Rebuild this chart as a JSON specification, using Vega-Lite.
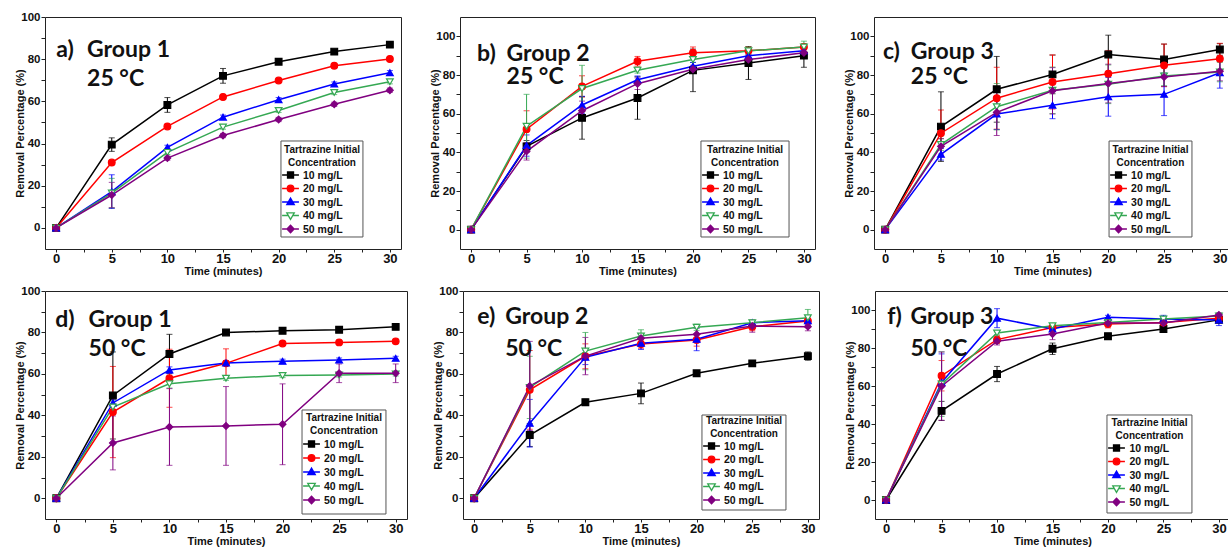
{
"$schema": "https://vega.github.io/schema/vega-lite/v6.json",
"background": "white",
"padding": {"left": 14, "top": 10, "right": 0, "bottom": 0},
"config": {
 "view": {"stroke": "#222", "strokeWidth": 1},
 "font": "Liberation Sans",
 "axis": {"grid": false, "domain": false, "labelFont": "Liberation Sans", "labelFontWeight": "bold", "labelColor": "#111", "tickColor": "#222", "titleFont": "Liberation Sans", "titleFontWeight": "bold", "titleFontSize": 11, "titleColor": "#111"}
},
"datasets": {"d": [
{"p":"a","c":"10 mg/L","t":0,"v":0,"e":0},{"p":"a","c":"10 mg/L","t":5,"v":39.5,"e":3.2},{"p":"a","c":"10 mg/L","t":10,"v":58.3,"e":3.5},{"p":"a","c":"10 mg/L","t":15,"v":72.1,"e":3.5},{"p":"a","c":"10 mg/L","t":20,"v":78.8,"e":1.2},{"p":"a","c":"10 mg/L","t":25,"v":83.6,"e":1},{"p":"a","c":"10 mg/L","t":30,"v":86.9,"e":0.8},
{"p":"a","c":"20 mg/L","t":0,"v":0,"e":0},{"p":"a","c":"20 mg/L","t":5,"v":31,"e":1},{"p":"a","c":"20 mg/L","t":10,"v":48.1,"e":1},{"p":"a","c":"20 mg/L","t":15,"v":62.1,"e":1},{"p":"a","c":"20 mg/L","t":20,"v":69.9,"e":0.8},{"p":"a","c":"20 mg/L","t":25,"v":76.9,"e":1},{"p":"a","c":"20 mg/L","t":30,"v":80.1,"e":0.8},
{"p":"a","c":"30 mg/L","t":0,"v":0,"e":0},{"p":"a","c":"30 mg/L","t":5,"v":17.2,"e":8},{"p":"a","c":"30 mg/L","t":10,"v":38.2,"e":1},{"p":"a","c":"30 mg/L","t":15,"v":52.5,"e":1},{"p":"a","c":"30 mg/L","t":20,"v":60.8,"e":1},{"p":"a","c":"30 mg/L","t":25,"v":68.2,"e":1},{"p":"a","c":"30 mg/L","t":30,"v":73.6,"e":1},
{"p":"a","c":"40 mg/L","t":0,"v":0,"e":0},{"p":"a","c":"40 mg/L","t":5,"v":16.5,"e":7},{"p":"a","c":"40 mg/L","t":10,"v":35.8,"e":1},{"p":"a","c":"40 mg/L","t":15,"v":47.8,"e":1},{"p":"a","c":"40 mg/L","t":20,"v":55.7,"e":1},{"p":"a","c":"40 mg/L","t":25,"v":64.2,"e":1},{"p":"a","c":"40 mg/L","t":30,"v":69.3,"e":1},
{"p":"a","c":"50 mg/L","t":0,"v":0,"e":0},{"p":"a","c":"50 mg/L","t":5,"v":15.6,"e":6},{"p":"a","c":"50 mg/L","t":10,"v":33.1,"e":1},{"p":"a","c":"50 mg/L","t":15,"v":43.8,"e":1},{"p":"a","c":"50 mg/L","t":20,"v":51.4,"e":1},{"p":"a","c":"50 mg/L","t":25,"v":58.6,"e":1},{"p":"a","c":"50 mg/L","t":30,"v":65.3,"e":1},
{"p":"b","c":"10 mg/L","t":0,"v":0,"e":0},{"p":"b","c":"10 mg/L","t":5,"v":43.1,"e":3},{"p":"b","c":"10 mg/L","t":10,"v":57.8,"e":11},{"p":"b","c":"10 mg/L","t":15,"v":68.1,"e":11},{"p":"b","c":"10 mg/L","t":20,"v":82.4,"e":11},{"p":"b","c":"10 mg/L","t":25,"v":86.2,"e":8.5},{"p":"b","c":"10 mg/L","t":30,"v":90,"e":6},
{"p":"b","c":"20 mg/L","t":0,"v":0,"e":0},{"p":"b","c":"20 mg/L","t":5,"v":52,"e":9.5},{"p":"b","c":"20 mg/L","t":10,"v":74.1,"e":5.5},{"p":"b","c":"20 mg/L","t":15,"v":87.1,"e":2.5},{"p":"b","c":"20 mg/L","t":20,"v":91.5,"e":3},{"p":"b","c":"20 mg/L","t":25,"v":92.5,"e":2},{"p":"b","c":"20 mg/L","t":30,"v":94.5,"e":1.5},
{"p":"b","c":"30 mg/L","t":0,"v":0,"e":0},{"p":"b","c":"30 mg/L","t":5,"v":43.5,"e":5.5},{"p":"b","c":"30 mg/L","t":10,"v":64.5,"e":4.5},{"p":"b","c":"30 mg/L","t":15,"v":77.5,"e":2},{"p":"b","c":"30 mg/L","t":20,"v":84.5,"e":2},{"p":"b","c":"30 mg/L","t":25,"v":90,"e":1.5},{"p":"b","c":"30 mg/L","t":30,"v":92.5,"e":2},
{"p":"b","c":"40 mg/L","t":0,"v":0,"e":0},{"p":"b","c":"40 mg/L","t":5,"v":53.5,"e":16.5},{"p":"b","c":"40 mg/L","t":10,"v":73,"e":12},{"p":"b","c":"40 mg/L","t":15,"v":82.5,"e":1.5},{"p":"b","c":"40 mg/L","t":20,"v":88,"e":1.5},{"p":"b","c":"40 mg/L","t":25,"v":92.5,"e":2},{"p":"b","c":"40 mg/L","t":30,"v":94.5,"e":3},
{"p":"b","c":"50 mg/L","t":0,"v":0,"e":0},{"p":"b","c":"50 mg/L","t":5,"v":40.5,"e":4.5},{"p":"b","c":"50 mg/L","t":10,"v":61.5,"e":5},{"p":"b","c":"50 mg/L","t":15,"v":75.5,"e":3},{"p":"b","c":"50 mg/L","t":20,"v":83,"e":2},{"p":"b","c":"50 mg/L","t":25,"v":88,"e":2},{"p":"b","c":"50 mg/L","t":30,"v":91.5,"e":2},
{"p":"c","c":"10 mg/L","t":0,"v":0,"e":0},{"p":"c","c":"10 mg/L","t":5,"v":53.3,"e":18},{"p":"c","c":"10 mg/L","t":10,"v":72.6,"e":17},{"p":"c","c":"10 mg/L","t":15,"v":80.3,"e":10},{"p":"c","c":"10 mg/L","t":20,"v":90.6,"e":10},{"p":"c","c":"10 mg/L","t":25,"v":88,"e":8},{"p":"c","c":"10 mg/L","t":30,"v":93.2,"e":3},
{"p":"c","c":"20 mg/L","t":0,"v":0,"e":0},{"p":"c","c":"20 mg/L","t":5,"v":49.9,"e":12},{"p":"c","c":"20 mg/L","t":10,"v":68,"e":16},{"p":"c","c":"20 mg/L","t":15,"v":76.4,"e":14},{"p":"c","c":"20 mg/L","t":20,"v":80.7,"e":12},{"p":"c","c":"20 mg/L","t":25,"v":85,"e":11},{"p":"c","c":"20 mg/L","t":30,"v":88.4,"e":8},
{"p":"c","c":"30 mg/L","t":0,"v":0,"e":0},{"p":"c","c":"30 mg/L","t":5,"v":39,"e":3},{"p":"c","c":"30 mg/L","t":10,"v":59.8,"e":8},{"p":"c","c":"30 mg/L","t":15,"v":64.4,"e":7},{"p":"c","c":"30 mg/L","t":20,"v":68.7,"e":10},{"p":"c","c":"30 mg/L","t":25,"v":70,"e":11},{"p":"c","c":"30 mg/L","t":30,"v":81.2,"e":8},
{"p":"c","c":"40 mg/L","t":0,"v":0,"e":0},{"p":"c","c":"40 mg/L","t":5,"v":44,"e":3},{"p":"c","c":"40 mg/L","t":10,"v":63.6,"e":12},{"p":"c","c":"40 mg/L","t":15,"v":72.1,"e":12},{"p":"c","c":"40 mg/L","t":20,"v":75.2,"e":10},{"p":"c","c":"40 mg/L","t":25,"v":79.5,"e":5},{"p":"c","c":"40 mg/L","t":30,"v":81.5,"e":5},
{"p":"c","c":"50 mg/L","t":0,"v":0,"e":0},{"p":"c","c":"50 mg/L","t":5,"v":43.1,"e":4},{"p":"c","c":"50 mg/L","t":10,"v":60.7,"e":12},{"p":"c","c":"50 mg/L","t":15,"v":71.8,"e":12},{"p":"c","c":"50 mg/L","t":20,"v":75.6,"e":10},{"p":"c","c":"50 mg/L","t":25,"v":79,"e":5},{"p":"c","c":"50 mg/L","t":30,"v":82,"e":5},
{"p":"d","c":"10 mg/L","t":0,"v":0,"e":0},{"p":"d","c":"10 mg/L","t":5,"v":49.6,"e":21},{"p":"d","c":"10 mg/L","t":10,"v":69.6,"e":9.5},{"p":"d","c":"10 mg/L","t":15,"v":80,"e":0.8},{"p":"d","c":"10 mg/L","t":20,"v":80.8,"e":0.8},{"p":"d","c":"10 mg/L","t":25,"v":81.3,"e":0.8},{"p":"d","c":"10 mg/L","t":30,"v":82.7,"e":0.8},
{"p":"d","c":"20 mg/L","t":0,"v":0,"e":0},{"p":"d","c":"20 mg/L","t":5,"v":41.6,"e":22},{"p":"d","c":"20 mg/L","t":10,"v":57.9,"e":14},{"p":"d","c":"20 mg/L","t":15,"v":65.1,"e":7},{"p":"d","c":"20 mg/L","t":20,"v":74.7,"e":1},{"p":"d","c":"20 mg/L","t":25,"v":75.2,"e":1},{"p":"d","c":"20 mg/L","t":30,"v":75.7,"e":1},
{"p":"d","c":"30 mg/L","t":0,"v":0,"e":0},{"p":"d","c":"30 mg/L","t":5,"v":46,"e":1.5},{"p":"d","c":"30 mg/L","t":10,"v":61.9,"e":1.5},{"p":"d","c":"30 mg/L","t":15,"v":65.3,"e":1},{"p":"d","c":"30 mg/L","t":20,"v":66.1,"e":1},{"p":"d","c":"30 mg/L","t":25,"v":66.7,"e":1},{"p":"d","c":"30 mg/L","t":30,"v":67.5,"e":1},
{"p":"d","c":"40 mg/L","t":0,"v":0,"e":0},{"p":"d","c":"40 mg/L","t":5,"v":44,"e":3},{"p":"d","c":"40 mg/L","t":10,"v":55.2,"e":2},{"p":"d","c":"40 mg/L","t":15,"v":57.9,"e":1},{"p":"d","c":"40 mg/L","t":20,"v":59.2,"e":1},{"p":"d","c":"40 mg/L","t":25,"v":59.5,"e":1},{"p":"d","c":"40 mg/L","t":30,"v":60,"e":1},
{"p":"d","c":"50 mg/L","t":0,"v":0,"e":0},{"p":"d","c":"50 mg/L","t":5,"v":26.7,"e":13},{"p":"d","c":"50 mg/L","t":10,"v":34.4,"e":18.5},{"p":"d","c":"50 mg/L","t":15,"v":34.9,"e":19},{"p":"d","c":"50 mg/L","t":20,"v":35.7,"e":19.5},{"p":"d","c":"50 mg/L","t":25,"v":60.3,"e":4.5},{"p":"d","c":"50 mg/L","t":30,"v":60.3,"e":4.5},
{"p":"e","c":"10 mg/L","t":0,"v":0,"e":0},{"p":"e","c":"10 mg/L","t":5,"v":30.5,"e":5.5},{"p":"e","c":"10 mg/L","t":10,"v":46.3,"e":1.5},{"p":"e","c":"10 mg/L","t":15,"v":50.6,"e":5},{"p":"e","c":"10 mg/L","t":20,"v":60.3,"e":1},{"p":"e","c":"10 mg/L","t":25,"v":65.1,"e":1},{"p":"e","c":"10 mg/L","t":30,"v":68.6,"e":2},
{"p":"e","c":"20 mg/L","t":0,"v":0,"e":0},{"p":"e","c":"20 mg/L","t":5,"v":52.3,"e":19},{"p":"e","c":"20 mg/L","t":10,"v":68.5,"e":6},{"p":"e","c":"20 mg/L","t":15,"v":74.4,"e":2},{"p":"e","c":"20 mg/L","t":20,"v":76.4,"e":3},{"p":"e","c":"20 mg/L","t":25,"v":82.8,"e":2},{"p":"e","c":"20 mg/L","t":30,"v":85.5,"e":2},
{"p":"e","c":"30 mg/L","t":0,"v":0,"e":0},{"p":"e","c":"30 mg/L","t":5,"v":36.2,"e":11.5},{"p":"e","c":"30 mg/L","t":10,"v":68,"e":3.5},{"p":"e","c":"30 mg/L","t":15,"v":74.8,"e":3},{"p":"e","c":"30 mg/L","t":20,"v":76.7,"e":5.5},{"p":"e","c":"30 mg/L","t":25,"v":84.7,"e":1},{"p":"e","c":"30 mg/L","t":30,"v":85.7,"e":2},
{"p":"e","c":"40 mg/L","t":0,"v":0,"e":0},{"p":"e","c":"40 mg/L","t":5,"v":53.5,"e":15},{"p":"e","c":"40 mg/L","t":10,"v":71,"e":9},{"p":"e","c":"40 mg/L","t":15,"v":78.3,"e":3},{"p":"e","c":"40 mg/L","t":20,"v":82.5,"e":1.5},{"p":"e","c":"40 mg/L","t":25,"v":84.7,"e":1},{"p":"e","c":"40 mg/L","t":30,"v":87.1,"e":4},
{"p":"e","c":"50 mg/L","t":0,"v":0,"e":0},{"p":"e","c":"50 mg/L","t":5,"v":54.2,"e":21.5},{"p":"e","c":"50 mg/L","t":10,"v":68.6,"e":9},{"p":"e","c":"50 mg/L","t":15,"v":77.2,"e":2},{"p":"e","c":"50 mg/L","t":20,"v":79.1,"e":3},{"p":"e","c":"50 mg/L","t":25,"v":83.1,"e":3},{"p":"e","c":"50 mg/L","t":30,"v":82.8,"e":2},
{"p":"f","c":"10 mg/L","t":0,"v":0,"e":0},{"p":"f","c":"10 mg/L","t":5,"v":46.9,"e":5},{"p":"f","c":"10 mg/L","t":10,"v":66.3,"e":4},{"p":"f","c":"10 mg/L","t":15,"v":79.6,"e":3},{"p":"f","c":"10 mg/L","t":20,"v":86.2,"e":1.5},{"p":"f","c":"10 mg/L","t":25,"v":90,"e":1},{"p":"f","c":"10 mg/L","t":30,"v":94.8,"e":1},
{"p":"f","c":"20 mg/L","t":0,"v":0,"e":0},{"p":"f","c":"20 mg/L","t":5,"v":65.4,"e":8},{"p":"f","c":"20 mg/L","t":10,"v":84.4,"e":2},{"p":"f","c":"20 mg/L","t":15,"v":90.8,"e":2},{"p":"f","c":"20 mg/L","t":20,"v":92.6,"e":2},{"p":"f","c":"20 mg/L","t":25,"v":93.4,"e":1},{"p":"f","c":"20 mg/L","t":30,"v":95.7,"e":2},
{"p":"f","c":"30 mg/L","t":0,"v":0,"e":0},{"p":"f","c":"30 mg/L","t":5,"v":61.9,"e":15},{"p":"f","c":"30 mg/L","t":10,"v":95.7,"e":5},{"p":"f","c":"30 mg/L","t":15,"v":90,"e":1},{"p":"f","c":"30 mg/L","t":20,"v":96.2,"e":1},{"p":"f","c":"30 mg/L","t":25,"v":95.2,"e":2},{"p":"f","c":"30 mg/L","t":30,"v":94.8,"e":3},
{"p":"f","c":"40 mg/L","t":0,"v":0,"e":0},{"p":"f","c":"40 mg/L","t":5,"v":61,"e":17},{"p":"f","c":"40 mg/L","t":10,"v":87.9,"e":1},{"p":"f","c":"40 mg/L","t":15,"v":91.7,"e":1},{"p":"f","c":"40 mg/L","t":20,"v":93.4,"e":1},{"p":"f","c":"40 mg/L","t":25,"v":95.2,"e":1},{"p":"f","c":"40 mg/L","t":30,"v":96.9,"e":1},
{"p":"f","c":"50 mg/L","t":0,"v":0,"e":0},{"p":"f","c":"50 mg/L","t":5,"v":59.9,"e":18},{"p":"f","c":"50 mg/L","t":10,"v":83.6,"e":2},{"p":"f","c":"50 mg/L","t":15,"v":87.4,"e":3},{"p":"f","c":"50 mg/L","t":20,"v":93.1,"e":1},{"p":"f","c":"50 mg/L","t":25,"v":93.1,"e":1},{"p":"f","c":"50 mg/L","t":30,"v":97.4,"e":1}
]},
"spacing": 7,
"resolve": {"scale": {"x": "independent", "y": "independent", "color": "independent", "stroke": "independent", "fill": "independent", "shape": "independent"}},
"vconcat": [
{"hconcat": [
 {"width": 356, "height": 232,
  "encoding": {
   "x": {"field": "t", "type": "quantitative", "scale": {"domain": [-1, 31], "nice": false, "zero": false}, "axis": {"title": "Time (minutes)", "values": [0,2.5,5,7.5,10,12.5,15,17.5,20,22.5,25,27.5,30], "labelExpr": "datum.value % 5 === 0 ? datum.label : ''", "labelFontSize": 13, "labelPadding": 0, "titlePadding": 0, "tickSize": 3}},
   "y": {"field": "v", "type": "quantitative", "scale": {"domain": [-10, 100], "nice": false, "zero": false}, "axis": {"title": "Removal Percentage (%)", "values": [0,10,20,30,40,50,60,70,80,90,100], "labelExpr": "datum.value % 20 === 0 ? datum.label : ''", "labelFontSize": 11.5, "tickSize": 4, "labelPadding": 1, "titlePadding": -5}}
  },
  "layer": [
   {"data": {"name": "d"}, "transform": [{"filter": "datum.p === 'a' && datum.e > 0"}], "mark": {"type": "errorbar", "ticks": {"size": 6}, "thickness": 1}, "encoding": {"yError": {"field": "e"}, "color": {"field": "c", "type": "nominal", "scale": {"domain": ["10 mg/L","20 mg/L","30 mg/L","40 mg/L","50 mg/L"], "range": ["#000000","#ff0000","#0000ff","#35a853","#800080"]}, "legend": null}}},
   {"data": {"name": "d"}, "transform": [{"filter": "datum.p === 'a'"}], "mark": {"type": "line", "strokeWidth": 1.5}, "encoding": {"color": {"field": "c", "type": "nominal", "scale": {"domain": ["10 mg/L","20 mg/L","30 mg/L","40 mg/L","50 mg/L"], "range": ["#000000","#ff0000","#0000ff","#35a853","#800080"]}, "legend": null}}},
   {"data": {"name": "d"}, "transform": [{"filter": "datum.p === 'a'"}], "mark": {"type": "point", "filled": true, "size": 45, "opacity": 1, "strokeWidth": 1.2},
    "encoding": {
     "shape": {"field": "c", "type": "nominal", "scale": {"domain": ["10 mg/L","20 mg/L","30 mg/L","40 mg/L","50 mg/L"], "range": ["square","circle","triangle-up","triangle-down","diamond"]}, "legend": null},
     "fill": {"field": "c", "type": "nominal", "scale": {"domain": ["10 mg/L","20 mg/L","30 mg/L","40 mg/L","50 mg/L"], "range": ["#000000","#ff0000","#0000ff","#ffffff","#800080"]}, "legend": null},
     "stroke": {"field": "c", "type": "nominal", "scale": {"domain": ["10 mg/L","20 mg/L","30 mg/L","40 mg/L","50 mg/L"], "range": ["#000000","#ff0000","#0000ff","#35a853","#800080"]}, "legend": null}
    }},
   {"data": {"name": "d"}, "transform": [{"filter": "datum.p === 'a' && datum.t === 0 && datum.c === '10 mg/L'"}],
    "layer": [
     {"mark": {"type": "text", "font": "Lato", "fontSize": 23, "fontWeight": "bold", "align": "left", "baseline": "alphabetic", "color": "#111"}, "encoding": {"x": {"datum": 0}, "y": {"datum": 81}, "text": {"value": "a)"}}},
     {"mark": {"type": "text", "font": "Lato", "fontSize": 23, "fontWeight": "bold", "align": "left", "baseline": "alphabetic", "color": "#111", "lineHeight": 29}, "encoding": {"x": {"datum": 2.78}, "y": {"datum": 81}, "text": {"value": ["Group 1", "25 °C"]}}},
     {"mark": {"type": "rect", "fill": "white", "stroke": "#555", "strokeWidth": 1}, "encoding": {"x": {"datum": 20.21}, "x2": {"datum": 27.58}, "y": {"datum": 41.21}, "y2": {"datum": -4.31}}},
     {"mark": {"type": "text", "font": "Liberation Sans", "fontSize": 10, "fontWeight": "bold", "align": "center", "baseline": "alphabetic", "lineHeight": 13, "color": "#111"}, "encoding": {"x": {"datum": 23.9}, "y": {"datum": 35.75}, "text": {"value": ["Tartrazine Initial", "Concentration"]}}},
     {"mark": {"type": "point", "shape": "M-2.8,0H2.8M-1,-1H1V1H-1Z", "size": 36, "filled": true, "fill": "#000000", "stroke": "#000000", "strokeWidth": 1.3, "opacity": 1}, "encoding": {"x": {"datum": 21.07}, "y": {"datum": 25.09}}},
     {"mark": {"type": "point", "shape": "M-2.8,0H2.8M-1.1,0A1.1,1.1,0,1,1,1.1,0A1.1,1.1,0,1,1,-1.1,0Z", "size": 36, "filled": true, "fill": "#ff0000", "stroke": "#ff0000", "strokeWidth": 1.3, "opacity": 1}, "encoding": {"x": {"datum": 21.07}, "y": {"datum": 18.69}}},
     {"mark": {"type": "point", "shape": "M-2.8,0H2.8M0,-1.3L1.25,0.9H-1.25Z", "size": 36, "filled": true, "fill": "#0000ff", "stroke": "#0000ff", "strokeWidth": 1.3, "opacity": 1}, "encoding": {"x": {"datum": 21.07}, "y": {"datum": 12.28}}},
     {"mark": {"type": "point", "shape": "M-2.8,0H-0.7M0.7,0H2.8M-1.25,-0.9H1.25L0,1.3Z", "size": 36, "filled": true, "fill": "#ffffff", "stroke": "#35a853", "strokeWidth": 1.3, "opacity": 1}, "encoding": {"x": {"datum": 21.07}, "y": {"datum": 5.88}}},
     {"mark": {"type": "point", "shape": "M-2.8,0H2.8M0,-1.3L1.2,0L0,1.3L-1.2,0Z", "size": 36, "filled": true, "fill": "#800080", "stroke": "#800080", "strokeWidth": 1.3, "opacity": 1}, "encoding": {"x": {"datum": 21.07}, "y": {"datum": -0.52}}},
     {"mark": {"type": "text", "font": "Liberation Sans", "fontSize": 10.5, "fontWeight": "bold", "align": "left", "baseline": "alphabetic", "lineHeight": 13.5, "color": "#111"}, "encoding": {"x": {"datum": 22.19}, "y": {"datum": 23.33}, "text": {"value": ["10 mg/L", "20 mg/L", "30 mg/L", "40 mg/L", "50 mg/L"]}}}
    ]}
  ]},
 {"width": 355, "height": 232,
  "encoding": {
   "x": {"field": "t", "type": "quantitative", "scale": {"domain": [-1, 31], "nice": false, "zero": false}, "axis": {"title": "Time (minutes)", "values": [0,2.5,5,7.5,10,12.5,15,17.5,20,22.5,25,27.5,30], "labelExpr": "datum.value % 5 === 0 ? datum.label : ''", "labelFontSize": 13, "labelPadding": 0, "titlePadding": 0, "tickSize": 3}},
   "y": {"field": "v", "type": "quantitative", "scale": {"domain": [-10, 110], "nice": false, "zero": false}, "axis": {"title": "Removal Percentage (%)", "values": [0,10,20,30,40,50,60,70,80,90,100], "labelExpr": "datum.value % 20 === 0 ? datum.label : ''", "labelFontSize": 11.5, "tickSize": 4, "labelPadding": 1, "titlePadding": -5}}
  },
  "layer": [
   {"data": {"name": "d"}, "transform": [{"filter": "datum.p === 'b' && datum.e > 0"}], "mark": {"type": "errorbar", "ticks": {"size": 6}, "thickness": 1}, "encoding": {"yError": {"field": "e"}, "color": {"field": "c", "type": "nominal", "scale": {"domain": ["10 mg/L","20 mg/L","30 mg/L","40 mg/L","50 mg/L"], "range": ["#000000","#ff0000","#0000ff","#35a853","#800080"]}, "legend": null}}},
   {"data": {"name": "d"}, "transform": [{"filter": "datum.p === 'b'"}], "mark": {"type": "line", "strokeWidth": 1.5}, "encoding": {"color": {"field": "c", "type": "nominal", "scale": {"domain": ["10 mg/L","20 mg/L","30 mg/L","40 mg/L","50 mg/L"], "range": ["#000000","#ff0000","#0000ff","#35a853","#800080"]}, "legend": null}}},
   {"data": {"name": "d"}, "transform": [{"filter": "datum.p === 'b'"}], "mark": {"type": "point", "filled": true, "size": 45, "opacity": 1, "strokeWidth": 1.2},
    "encoding": {
     "shape": {"field": "c", "type": "nominal", "scale": {"domain": ["10 mg/L","20 mg/L","30 mg/L","40 mg/L","50 mg/L"], "range": ["square","circle","triangle-up","triangle-down","diamond"]}, "legend": null},
     "fill": {"field": "c", "type": "nominal", "scale": {"domain": ["10 mg/L","20 mg/L","30 mg/L","40 mg/L","50 mg/L"], "range": ["#000000","#ff0000","#0000ff","#ffffff","#800080"]}, "legend": null},
     "stroke": {"field": "c", "type": "nominal", "scale": {"domain": ["10 mg/L","20 mg/L","30 mg/L","40 mg/L","50 mg/L"], "range": ["#000000","#ff0000","#0000ff","#35a853","#800080"]}, "legend": null}
    }},
   {"data": {"name": "d"}, "transform": [{"filter": "datum.p === 'b' && datum.t === 0 && datum.c === '10 mg/L'"}],
    "layer": [
     {"mark": {"type": "text", "font": "Lato", "fontSize": 23, "fontWeight": "bold", "align": "left", "baseline": "alphabetic", "color": "#111"}, "encoding": {"x": {"datum": 0.54}, "y": {"datum": 87.2}, "text": {"value": "b)"}}},
     {"mark": {"type": "text", "font": "Lato", "fontSize": 23, "fontWeight": "bold", "align": "left", "baseline": "alphabetic", "color": "#111", "lineHeight": 23}, "encoding": {"x": {"datum": 3.2}, "y": {"datum": 87.2}, "text": {"value": ["Group 2", "25 °C"]}}},
     {"mark": {"type": "rect", "fill": "white", "stroke": "#555", "strokeWidth": 1}, "encoding": {"x": {"datum": 20.72}, "x2": {"datum": 28.66}, "y": {"datum": 45.86}, "y2": {"datum": -3.79}}},
     {"mark": {"type": "text", "font": "Liberation Sans", "fontSize": 10, "fontWeight": "bold", "align": "center", "baseline": "alphabetic", "lineHeight": 13, "color": "#111"}, "encoding": {"x": {"datum": 24.69}, "y": {"datum": 39.91}, "text": {"value": ["Tartrazine Initial", "Concentration"]}}},
     {"mark": {"type": "point", "shape": "M-2.8,0H2.8M-1,-1H1V1H-1Z", "size": 36, "filled": true, "fill": "#000000", "stroke": "#000000", "strokeWidth": 1.3, "opacity": 1}, "encoding": {"x": {"datum": 21.58}, "y": {"datum": 28.28}}},
     {"mark": {"type": "point", "shape": "M-2.8,0H2.8M-1.1,0A1.1,1.1,0,1,1,1.1,0A1.1,1.1,0,1,1,-1.1,0Z", "size": 36, "filled": true, "fill": "#ff0000", "stroke": "#ff0000", "strokeWidth": 1.3, "opacity": 1}, "encoding": {"x": {"datum": 21.58}, "y": {"datum": 21.29}}},
     {"mark": {"type": "point", "shape": "M-2.8,0H2.8M0,-1.3L1.25,0.9H-1.25Z", "size": 36, "filled": true, "fill": "#0000ff", "stroke": "#0000ff", "strokeWidth": 1.3, "opacity": 1}, "encoding": {"x": {"datum": 21.58}, "y": {"datum": 14.31}}},
     {"mark": {"type": "point", "shape": "M-2.8,0H-0.7M0.7,0H2.8M-1.25,-0.9H1.25L0,1.3Z", "size": 36, "filled": true, "fill": "#ffffff", "stroke": "#35a853", "strokeWidth": 1.3, "opacity": 1}, "encoding": {"x": {"datum": 21.58}, "y": {"datum": 7.33}}},
     {"mark": {"type": "point", "shape": "M-2.8,0H2.8M0,-1.3L1.2,0L0,1.3L-1.2,0Z", "size": 36, "filled": true, "fill": "#800080", "stroke": "#800080", "strokeWidth": 1.3, "opacity": 1}, "encoding": {"x": {"datum": 21.58}, "y": {"datum": 0.34}}},
     {"mark": {"type": "text", "font": "Liberation Sans", "fontSize": 10.5, "fontWeight": "bold", "align": "left", "baseline": "alphabetic", "lineHeight": 13.5, "color": "#111"}, "encoding": {"x": {"datum": 22.71}, "y": {"datum": 26.36}, "text": {"value": ["10 mg/L", "20 mg/L", "30 mg/L", "40 mg/L", "50 mg/L"]}}}
    ]}
  ]},
 {"width": 357, "height": 232,
  "encoding": {
   "x": {"field": "t", "type": "quantitative", "scale": {"domain": [-1, 31], "nice": false, "zero": false}, "axis": {"title": "Time (minutes)", "values": [0,2.5,5,7.5,10,12.5,15,17.5,20,22.5,25,27.5,30], "labelExpr": "datum.value % 5 === 0 ? datum.label : ''", "labelFontSize": 13, "labelPadding": 0, "titlePadding": 0, "tickSize": 3}},
   "y": {"field": "v", "type": "quantitative", "scale": {"domain": [-10, 110], "nice": false, "zero": false}, "axis": {"title": "Removal Percentage (%)", "values": [0,10,20,30,40,50,60,70,80,90,100], "labelExpr": "datum.value % 20 === 0 ? datum.label : ''", "labelFontSize": 11.5, "tickSize": 4, "labelPadding": 1, "titlePadding": -5}}
  },
  "layer": [
   {"data": {"name": "d"}, "transform": [{"filter": "datum.p === 'c' && datum.e > 0"}], "mark": {"type": "errorbar", "ticks": {"size": 6}, "thickness": 1}, "encoding": {"yError": {"field": "e"}, "color": {"field": "c", "type": "nominal", "scale": {"domain": ["10 mg/L","20 mg/L","30 mg/L","40 mg/L","50 mg/L"], "range": ["#000000","#ff0000","#0000ff","#35a853","#800080"]}, "legend": null}}},
   {"data": {"name": "d"}, "transform": [{"filter": "datum.p === 'c'"}], "mark": {"type": "line", "strokeWidth": 1.5}, "encoding": {"color": {"field": "c", "type": "nominal", "scale": {"domain": ["10 mg/L","20 mg/L","30 mg/L","40 mg/L","50 mg/L"], "range": ["#000000","#ff0000","#0000ff","#35a853","#800080"]}, "legend": null}}},
   {"data": {"name": "d"}, "transform": [{"filter": "datum.p === 'c'"}], "mark": {"type": "point", "filled": true, "size": 45, "opacity": 1, "strokeWidth": 1.2},
    "encoding": {
     "shape": {"field": "c", "type": "nominal", "scale": {"domain": ["10 mg/L","20 mg/L","30 mg/L","40 mg/L","50 mg/L"], "range": ["square","circle","triangle-up","triangle-down","diamond"]}, "legend": null},
     "fill": {"field": "c", "type": "nominal", "scale": {"domain": ["10 mg/L","20 mg/L","30 mg/L","40 mg/L","50 mg/L"], "range": ["#000000","#ff0000","#0000ff","#ffffff","#800080"]}, "legend": null},
     "stroke": {"field": "c", "type": "nominal", "scale": {"domain": ["10 mg/L","20 mg/L","30 mg/L","40 mg/L","50 mg/L"], "range": ["#000000","#ff0000","#0000ff","#35a853","#800080"]}, "legend": null}
    }},
   {"data": {"name": "d"}, "transform": [{"filter": "datum.p === 'c' && datum.t === 0 && datum.c === '10 mg/L'"}],
    "layer": [
     {"mark": {"type": "text", "font": "Lato", "fontSize": 23, "fontWeight": "bold", "align": "left", "baseline": "alphabetic", "color": "#111"}, "encoding": {"x": {"datum": -0.2}, "y": {"datum": 88.3}, "text": {"value": "c)"}}},
     {"mark": {"type": "text", "font": "Lato", "fontSize": 23, "fontWeight": "bold", "align": "left", "baseline": "alphabetic", "color": "#111", "lineHeight": 25}, "encoding": {"x": {"datum": 2.3}, "y": {"datum": 88.3}, "text": {"value": ["Group 3", "25 °C"]}}},
     {"mark": {"type": "rect", "fill": "white", "stroke": "#555", "strokeWidth": 1}, "encoding": {"x": {"datum": 20.07}, "x2": {"datum": 27.5}, "y": {"datum": 45.86}, "y2": {"datum": -3.79}}},
     {"mark": {"type": "text", "font": "Liberation Sans", "fontSize": 10, "fontWeight": "bold", "align": "center", "baseline": "alphabetic", "lineHeight": 13, "color": "#111"}, "encoding": {"x": {"datum": 23.78}, "y": {"datum": 39.91}, "text": {"value": ["Tartrazine Initial", "Concentration"]}}},
     {"mark": {"type": "point", "shape": "M-2.8,0H2.8M-1,-1H1V1H-1Z", "size": 36, "filled": true, "fill": "#000000", "stroke": "#000000", "strokeWidth": 1.3, "opacity": 1}, "encoding": {"x": {"datum": 20.92}, "y": {"datum": 28.28}}},
     {"mark": {"type": "point", "shape": "M-2.8,0H2.8M-1.1,0A1.1,1.1,0,1,1,1.1,0A1.1,1.1,0,1,1,-1.1,0Z", "size": 36, "filled": true, "fill": "#ff0000", "stroke": "#ff0000", "strokeWidth": 1.3, "opacity": 1}, "encoding": {"x": {"datum": 20.92}, "y": {"datum": 21.29}}},
     {"mark": {"type": "point", "shape": "M-2.8,0H2.8M0,-1.3L1.25,0.9H-1.25Z", "size": 36, "filled": true, "fill": "#0000ff", "stroke": "#0000ff", "strokeWidth": 1.3, "opacity": 1}, "encoding": {"x": {"datum": 20.92}, "y": {"datum": 14.31}}},
     {"mark": {"type": "point", "shape": "M-2.8,0H-0.7M0.7,0H2.8M-1.25,-0.9H1.25L0,1.3Z", "size": 36, "filled": true, "fill": "#ffffff", "stroke": "#35a853", "strokeWidth": 1.3, "opacity": 1}, "encoding": {"x": {"datum": 20.92}, "y": {"datum": 7.33}}},
     {"mark": {"type": "point", "shape": "M-2.8,0H2.8M0,-1.3L1.2,0L0,1.3L-1.2,0Z", "size": 36, "filled": true, "fill": "#800080", "stroke": "#800080", "strokeWidth": 1.3, "opacity": 1}, "encoding": {"x": {"datum": 20.92}, "y": {"datum": 0.34}}},
     {"mark": {"type": "text", "font": "Liberation Sans", "fontSize": 10.5, "fontWeight": "bold", "align": "left", "baseline": "alphabetic", "lineHeight": 13.5, "color": "#111"}, "encoding": {"x": {"datum": 22.04}, "y": {"datum": 26.36}, "text": {"value": ["10 mg/L", "20 mg/L", "30 mg/L", "40 mg/L", "50 mg/L"]}}}
    ]}
  ]}
 ], "spacing": 59, "bounds": "flush",
 "resolve": {"scale": {"x": "independent", "y": "independent", "color": "independent", "stroke": "independent", "fill": "independent", "shape": "independent"}}},
{"hconcat": [
 {"width": 362, "height": 228,
  "encoding": {
   "x": {"field": "t", "type": "quantitative", "scale": {"domain": [-1, 31], "nice": false, "zero": false}, "axis": {"title": "Time (minutes)", "values": [0,2.5,5,7.5,10,12.5,15,17.5,20,22.5,25,27.5,30], "labelExpr": "datum.value % 5 === 0 ? datum.label : ''", "labelFontSize": 13, "labelPadding": 0, "titlePadding": 0, "tickSize": 3}},
   "y": {"field": "v", "type": "quantitative", "scale": {"domain": [-10, 100], "nice": false, "zero": false}, "axis": {"title": "Removal Percentage (%)", "values": [0,10,20,30,40,50,60,70,80,90,100], "labelExpr": "datum.value % 20 === 0 ? datum.label : ''", "labelFontSize": 11.5, "tickSize": 4, "labelPadding": 1, "titlePadding": -5}}
  },
  "layer": [
   {"data": {"name": "d"}, "transform": [{"filter": "datum.p === 'd' && datum.e > 0"}], "mark": {"type": "errorbar", "ticks": {"size": 6}, "thickness": 1}, "encoding": {"yError": {"field": "e"}, "color": {"field": "c", "type": "nominal", "scale": {"domain": ["10 mg/L","20 mg/L","30 mg/L","40 mg/L","50 mg/L"], "range": ["#000000","#ff0000","#0000ff","#35a853","#800080"]}, "legend": null}}},
   {"data": {"name": "d"}, "transform": [{"filter": "datum.p === 'd'"}], "mark": {"type": "line", "strokeWidth": 1.5}, "encoding": {"color": {"field": "c", "type": "nominal", "scale": {"domain": ["10 mg/L","20 mg/L","30 mg/L","40 mg/L","50 mg/L"], "range": ["#000000","#ff0000","#0000ff","#35a853","#800080"]}, "legend": null}}},
   {"data": {"name": "d"}, "transform": [{"filter": "datum.p === 'd'"}], "mark": {"type": "point", "filled": true, "size": 45, "opacity": 1, "strokeWidth": 1.2},
    "encoding": {
     "shape": {"field": "c", "type": "nominal", "scale": {"domain": ["10 mg/L","20 mg/L","30 mg/L","40 mg/L","50 mg/L"], "range": ["square","circle","triangle-up","triangle-down","diamond"]}, "legend": null},
     "fill": {"field": "c", "type": "nominal", "scale": {"domain": ["10 mg/L","20 mg/L","30 mg/L","40 mg/L","50 mg/L"], "range": ["#000000","#ff0000","#0000ff","#ffffff","#800080"]}, "legend": null},
     "stroke": {"field": "c", "type": "nominal", "scale": {"domain": ["10 mg/L","20 mg/L","30 mg/L","40 mg/L","50 mg/L"], "range": ["#000000","#ff0000","#0000ff","#35a853","#800080"]}, "legend": null}
    }},
   {"data": {"name": "d"}, "transform": [{"filter": "datum.p === 'd' && datum.t === 0 && datum.c === '10 mg/L'"}],
    "layer": [
     {"mark": {"type": "text", "font": "Lato", "fontSize": 23, "fontWeight": "bold", "align": "left", "baseline": "alphabetic", "color": "#111"}, "encoding": {"x": {"datum": -0.1}, "y": {"datum": 82.6}, "text": {"value": "d)"}}},
     {"mark": {"type": "text", "font": "Lato", "fontSize": 23, "fontWeight": "bold", "align": "left", "baseline": "alphabetic", "color": "#111", "lineHeight": 29}, "encoding": {"x": {"datum": 2.85}, "y": {"datum": 82.6}, "text": {"value": ["Group 1", "50 °C"]}}},
     {"mark": {"type": "rect", "fill": "white", "stroke": "#555", "strokeWidth": 1}, "encoding": {"x": {"datum": 21.72}, "x2": {"datum": 29.14}, "y": {"datum": 42.59}, "y2": {"datum": -7.59}}},
     {"mark": {"type": "text", "font": "Liberation Sans", "fontSize": 10, "fontWeight": "bold", "align": "center", "baseline": "alphabetic", "lineHeight": 13, "color": "#111"}, "encoding": {"x": {"datum": 25.43}, "y": {"datum": 37.28}, "text": {"value": ["Tartrazine Initial", "Concentration"]}}},
     {"mark": {"type": "point", "shape": "M-2.8,0H2.8M-1,-1H1V1H-1Z", "size": 36, "filled": true, "fill": "#000000", "stroke": "#000000", "strokeWidth": 1.3, "opacity": 1}, "encoding": {"x": {"datum": 22.56}, "y": {"datum": 26.18}}},
     {"mark": {"type": "point", "shape": "M-2.8,0H2.8M-1.1,0A1.1,1.1,0,1,1,1.1,0A1.1,1.1,0,1,1,-1.1,0Z", "size": 36, "filled": true, "fill": "#ff0000", "stroke": "#ff0000", "strokeWidth": 1.3, "opacity": 1}, "encoding": {"x": {"datum": 22.56}, "y": {"datum": 19.43}}},
     {"mark": {"type": "point", "shape": "M-2.8,0H2.8M0,-1.3L1.25,0.9H-1.25Z", "size": 36, "filled": true, "fill": "#0000ff", "stroke": "#0000ff", "strokeWidth": 1.3, "opacity": 1}, "encoding": {"x": {"datum": 22.56}, "y": {"datum": 12.67}}},
     {"mark": {"type": "point", "shape": "M-2.8,0H-0.7M0.7,0H2.8M-1.25,-0.9H1.25L0,1.3Z", "size": 36, "filled": true, "fill": "#ffffff", "stroke": "#35a853", "strokeWidth": 1.3, "opacity": 1}, "encoding": {"x": {"datum": 22.56}, "y": {"datum": 5.92}}},
     {"mark": {"type": "point", "shape": "M-2.8,0H2.8M0,-1.3L1.2,0L0,1.3L-1.2,0Z", "size": 36, "filled": true, "fill": "#800080", "stroke": "#800080", "strokeWidth": 1.3, "opacity": 1}, "encoding": {"x": {"datum": 22.56}, "y": {"datum": -0.84}}},
     {"mark": {"type": "text", "font": "Liberation Sans", "fontSize": 10.5, "fontWeight": "bold", "align": "left", "baseline": "alphabetic", "lineHeight": 14, "color": "#111"}, "encoding": {"x": {"datum": 23.66}, "y": {"datum": 24.4}, "text": {"value": ["10 mg/L", "20 mg/L", "30 mg/L", "40 mg/L", "50 mg/L"]}}}
    ]}
  ]},
 {"width": 356, "height": 228,
  "encoding": {
   "x": {"field": "t", "type": "quantitative", "scale": {"domain": [-1, 31], "nice": false, "zero": false}, "axis": {"title": "Time (minutes)", "values": [0,2.5,5,7.5,10,12.5,15,17.5,20,22.5,25,27.5,30], "labelExpr": "datum.value % 5 === 0 ? datum.label : ''", "labelFontSize": 13, "labelPadding": 0, "titlePadding": 0, "tickSize": 3}},
   "y": {"field": "v", "type": "quantitative", "scale": {"domain": [-10, 100], "nice": false, "zero": false}, "axis": {"title": "Removal Percentage (%)", "values": [0,10,20,30,40,50,60,70,80,90,100], "labelExpr": "datum.value % 20 === 0 ? datum.label : ''", "labelFontSize": 11.5, "tickSize": 4, "labelPadding": 1, "titlePadding": -5}}
  },
  "layer": [
   {"data": {"name": "d"}, "transform": [{"filter": "datum.p === 'e' && datum.e > 0"}], "mark": {"type": "errorbar", "ticks": {"size": 6}, "thickness": 1}, "encoding": {"yError": {"field": "e"}, "color": {"field": "c", "type": "nominal", "scale": {"domain": ["10 mg/L","20 mg/L","30 mg/L","40 mg/L","50 mg/L"], "range": ["#000000","#ff0000","#0000ff","#35a853","#800080"]}, "legend": null}}},
   {"data": {"name": "d"}, "transform": [{"filter": "datum.p === 'e'"}], "mark": {"type": "line", "strokeWidth": 1.5}, "encoding": {"color": {"field": "c", "type": "nominal", "scale": {"domain": ["10 mg/L","20 mg/L","30 mg/L","40 mg/L","50 mg/L"], "range": ["#000000","#ff0000","#0000ff","#35a853","#800080"]}, "legend": null}}},
   {"data": {"name": "d"}, "transform": [{"filter": "datum.p === 'e'"}], "mark": {"type": "point", "filled": true, "size": 45, "opacity": 1, "strokeWidth": 1.2},
    "encoding": {
     "shape": {"field": "c", "type": "nominal", "scale": {"domain": ["10 mg/L","20 mg/L","30 mg/L","40 mg/L","50 mg/L"], "range": ["square","circle","triangle-up","triangle-down","diamond"]}, "legend": null},
     "fill": {"field": "c", "type": "nominal", "scale": {"domain": ["10 mg/L","20 mg/L","30 mg/L","40 mg/L","50 mg/L"], "range": ["#000000","#ff0000","#0000ff","#ffffff","#800080"]}, "legend": null},
     "stroke": {"field": "c", "type": "nominal", "scale": {"domain": ["10 mg/L","20 mg/L","30 mg/L","40 mg/L","50 mg/L"], "range": ["#000000","#ff0000","#0000ff","#35a853","#800080"]}, "legend": null}
    }},
   {"data": {"name": "d"}, "transform": [{"filter": "datum.p === 'e' && datum.t === 0 && datum.c === '10 mg/L'"}],
    "layer": [
     {"mark": {"type": "text", "font": "Lato", "fontSize": 23, "fontWeight": "bold", "align": "left", "baseline": "alphabetic", "color": "#111"}, "encoding": {"x": {"datum": 0.27}, "y": {"datum": 84.1}, "text": {"value": "e)"}}},
     {"mark": {"type": "text", "font": "Lato", "fontSize": 23, "fontWeight": "bold", "align": "left", "baseline": "alphabetic", "color": "#111", "lineHeight": 32}, "encoding": {"x": {"datum": 2.8}, "y": {"datum": 84.1}, "text": {"value": ["Group 2", "50 °C"]}}},
     {"mark": {"type": "rect", "fill": "white", "stroke": "#555", "strokeWidth": 1}, "encoding": {"x": {"datum": 20.48}, "x2": {"datum": 28.03}, "y": {"datum": 40.17}, "y2": {"datum": -5.66}}},
     {"mark": {"type": "text", "font": "Liberation Sans", "fontSize": 10, "fontWeight": "bold", "align": "center", "baseline": "alphabetic", "lineHeight": 13, "color": "#111"}, "encoding": {"x": {"datum": 24.26}, "y": {"datum": 36.07}, "text": {"value": ["Tartrazine Initial", "Concentration"]}}},
     {"mark": {"type": "point", "shape": "M-2.8,0H2.8M-1,-1H1V1H-1Z", "size": 36, "filled": true, "fill": "#000000", "stroke": "#000000", "strokeWidth": 1.3, "opacity": 1}, "encoding": {"x": {"datum": 21.34}, "y": {"datum": 25.22}}},
     {"mark": {"type": "point", "shape": "M-2.8,0H2.8M-1.1,0A1.1,1.1,0,1,1,1.1,0A1.1,1.1,0,1,1,-1.1,0Z", "size": 36, "filled": true, "fill": "#ff0000", "stroke": "#ff0000", "strokeWidth": 1.3, "opacity": 1}, "encoding": {"x": {"datum": 21.34}, "y": {"datum": 18.71}}},
     {"mark": {"type": "point", "shape": "M-2.8,0H2.8M0,-1.3L1.25,0.9H-1.25Z", "size": 36, "filled": true, "fill": "#0000ff", "stroke": "#0000ff", "strokeWidth": 1.3, "opacity": 1}, "encoding": {"x": {"datum": 21.34}, "y": {"datum": 12.19}}},
     {"mark": {"type": "point", "shape": "M-2.8,0H-0.7M0.7,0H2.8M-1.25,-0.9H1.25L0,1.3Z", "size": 36, "filled": true, "fill": "#ffffff", "stroke": "#35a853", "strokeWidth": 1.3, "opacity": 1}, "encoding": {"x": {"datum": 21.34}, "y": {"datum": 5.68}}},
     {"mark": {"type": "point", "shape": "M-2.8,0H2.8M0,-1.3L1.2,0L0,1.3L-1.2,0Z", "size": 36, "filled": true, "fill": "#800080", "stroke": "#800080", "strokeWidth": 1.3, "opacity": 1}, "encoding": {"x": {"datum": 21.34}, "y": {"datum": -0.84}}},
     {"mark": {"type": "text", "font": "Liberation Sans", "fontSize": 10.5, "fontWeight": "bold", "align": "left", "baseline": "alphabetic", "lineHeight": 13.5, "color": "#111"}, "encoding": {"x": {"datum": 22.46}, "y": {"datum": 23.43}, "text": {"value": ["10 mg/L", "20 mg/L", "30 mg/L", "40 mg/L", "50 mg/L"]}}}
    ]}
  ]},
 {"width": 355, "height": 228,
  "encoding": {
   "x": {"field": "t", "type": "quantitative", "scale": {"domain": [-1, 31], "nice": false, "zero": false}, "axis": {"title": "Time (minutes)", "values": [0,2.5,5,7.5,10,12.5,15,17.5,20,22.5,25,27.5,30], "labelExpr": "datum.value % 5 === 0 ? datum.label : ''", "labelFontSize": 13, "labelPadding": 0, "titlePadding": 0, "tickSize": 3}},
   "y": {"field": "v", "type": "quantitative", "scale": {"domain": [-10, 110], "nice": false, "zero": false}, "axis": {"title": "Removal Percentage (%)", "values": [0,10,20,30,40,50,60,70,80,90,100], "labelExpr": "datum.value % 20 === 0 ? datum.label : ''", "labelFontSize": 11.5, "tickSize": 4, "labelPadding": 1, "titlePadding": -5}}
  },
  "layer": [
   {"data": {"name": "d"}, "transform": [{"filter": "datum.p === 'f' && datum.e > 0"}], "mark": {"type": "errorbar", "ticks": {"size": 6}, "thickness": 1}, "encoding": {"yError": {"field": "e"}, "color": {"field": "c", "type": "nominal", "scale": {"domain": ["10 mg/L","20 mg/L","30 mg/L","40 mg/L","50 mg/L"], "range": ["#000000","#ff0000","#0000ff","#35a853","#800080"]}, "legend": null}}},
   {"data": {"name": "d"}, "transform": [{"filter": "datum.p === 'f'"}], "mark": {"type": "line", "strokeWidth": 1.5}, "encoding": {"color": {"field": "c", "type": "nominal", "scale": {"domain": ["10 mg/L","20 mg/L","30 mg/L","40 mg/L","50 mg/L"], "range": ["#000000","#ff0000","#0000ff","#35a853","#800080"]}, "legend": null}}},
   {"data": {"name": "d"}, "transform": [{"filter": "datum.p === 'f'"}], "mark": {"type": "point", "filled": true, "size": 45, "opacity": 1, "strokeWidth": 1.2},
    "encoding": {
     "shape": {"field": "c", "type": "nominal", "scale": {"domain": ["10 mg/L","20 mg/L","30 mg/L","40 mg/L","50 mg/L"], "range": ["square","circle","triangle-up","triangle-down","diamond"]}, "legend": null},
     "fill": {"field": "c", "type": "nominal", "scale": {"domain": ["10 mg/L","20 mg/L","30 mg/L","40 mg/L","50 mg/L"], "range": ["#000000","#ff0000","#0000ff","#ffffff","#800080"]}, "legend": null},
     "stroke": {"field": "c", "type": "nominal", "scale": {"domain": ["10 mg/L","20 mg/L","30 mg/L","40 mg/L","50 mg/L"], "range": ["#000000","#ff0000","#0000ff","#35a853","#800080"]}, "legend": null}
    }},
   {"data": {"name": "d"}, "transform": [{"filter": "datum.p === 'f' && datum.t === 0 && datum.c === '10 mg/L'"}],
    "layer": [
     {"mark": {"type": "text", "font": "Lato", "fontSize": 23, "fontWeight": "bold", "align": "left", "baseline": "alphabetic", "color": "#111"}, "encoding": {"x": {"datum": 0.1}, "y": {"datum": 92.6}, "text": {"value": "f)"}}},
     {"mark": {"type": "text", "font": "Lato", "fontSize": 23, "fontWeight": "bold", "align": "left", "baseline": "alphabetic", "color": "#111", "lineHeight": 32}, "encoding": {"x": {"datum": 2.2}, "y": {"datum": 92.6}, "text": {"value": ["Group 3", "50 °C"]}}},
     {"mark": {"type": "rect", "fill": "white", "stroke": "#555", "strokeWidth": 1}, "encoding": {"x": {"datum": 19.91}, "x2": {"datum": 27.57}, "y": {"datum": 44.74}, "y2": {"datum": -6.84}}},
     {"mark": {"type": "text", "font": "Liberation Sans", "fontSize": 10, "fontWeight": "bold", "align": "center", "baseline": "alphabetic", "lineHeight": 13, "color": "#111"}, "encoding": {"x": {"datum": 23.74}, "y": {"datum": 39.21}, "text": {"value": ["Tartrazine Initial", "Concentration"]}}},
     {"mark": {"type": "point", "shape": "M-2.8,0H2.8M-1,-1H1V1H-1Z", "size": 36, "filled": true, "fill": "#000000", "stroke": "#000000", "strokeWidth": 1.3, "opacity": 1}, "encoding": {"x": {"datum": 20.77}, "y": {"datum": 27.37}}},
     {"mark": {"type": "point", "shape": "M-2.8,0H2.8M-1.1,0A1.1,1.1,0,1,1,1.1,0A1.1,1.1,0,1,1,-1.1,0Z", "size": 36, "filled": true, "fill": "#ff0000", "stroke": "#ff0000", "strokeWidth": 1.3, "opacity": 1}, "encoding": {"x": {"datum": 20.77}, "y": {"datum": 20.26}}},
     {"mark": {"type": "point", "shape": "M-2.8,0H2.8M0,-1.3L1.25,0.9H-1.25Z", "size": 36, "filled": true, "fill": "#0000ff", "stroke": "#0000ff", "strokeWidth": 1.3, "opacity": 1}, "encoding": {"x": {"datum": 20.77}, "y": {"datum": 13.16}}},
     {"mark": {"type": "point", "shape": "M-2.8,0H-0.7M0.7,0H2.8M-1.25,-0.9H1.25L0,1.3Z", "size": 36, "filled": true, "fill": "#ffffff", "stroke": "#35a853", "strokeWidth": 1.3, "opacity": 1}, "encoding": {"x": {"datum": 20.77}, "y": {"datum": 6.05}}},
     {"mark": {"type": "point", "shape": "M-2.8,0H2.8M0,-1.3L1.2,0L0,1.3L-1.2,0Z", "size": 36, "filled": true, "fill": "#800080", "stroke": "#800080", "strokeWidth": 1.3, "opacity": 1}, "encoding": {"x": {"datum": 20.77}, "y": {"datum": -1.05}}},
     {"mark": {"type": "text", "font": "Liberation Sans", "fontSize": 10.5, "fontWeight": "bold", "align": "left", "baseline": "alphabetic", "lineHeight": 13.5, "color": "#111"}, "encoding": {"x": {"datum": 21.94}, "y": {"datum": 25.42}, "text": {"value": ["10 mg/L", "20 mg/L", "30 mg/L", "40 mg/L", "50 mg/L"]}}}
    ]}
  ]}
 ], "spacing": 56, "bounds": "flush",
 "resolve": {"scale": {"x": "independent", "y": "independent", "color": "independent", "stroke": "independent", "fill": "independent", "shape": "independent"}}}
]
}
